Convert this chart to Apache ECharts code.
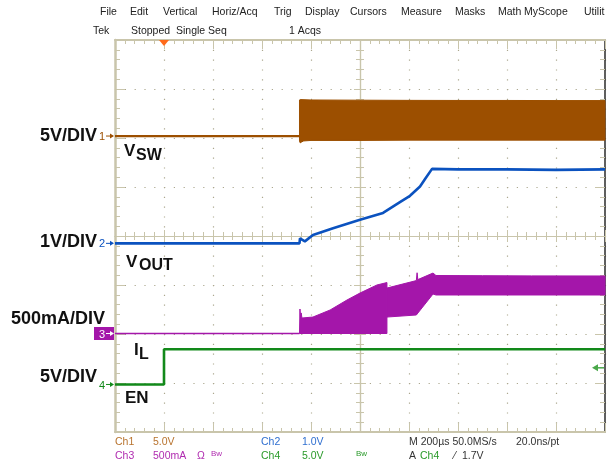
<!DOCTYPE html>
<html><head><meta charset="utf-8">
<script src="https://cdn.jsdelivr.net/npm/echarts@6/dist/echarts.min.js"></script>
<style>html,body{margin:0;padding:0;background:#fff}#c{width:608px;height:470px}</style>
</head><body><div id="c"></div>
<script>
// ---------------- data (time in µs relative to trigger) ----------------
const timeMin = -200, timeMax = 1800, timeStep = 200;   // 200 µs/div, 10 divs
const divMin = -4, divMax = 4;                          // 8 vertical divs

// channel offsets (divisions) and scales (units per div)
const ch1Offset = 2.04,  ch1Scale = 5;     // VSW  5 V/div
const ch2Offset = -0.15, ch2Scale = 1;     // VOUT 1 V/div
const ch3Offset = -1.99, ch3Scale = 500;   // IL   500 mA/div
const ch4Offset = -3.03, ch4Scale = 5;     // EN   5 V/div
const trigLevel = 1.7;                     // V on Ch4

// VSW (V)
const vswLineT = [-200, 553];
const vswLineV = [0, 0];
const vswTopT  = [553, 556, 600, 800, 1000, 1200, 1400, 1600, 1800];
const vswTopV  = [3.68, 3.72, 3.68, 3.66, 3.64, 3.63, 3.63, 3.62, 3.62];
const vswBotT  = [553, 556, 562, 570, 600, 800, 1000, 1200, 1400, 1600, 1800];
const vswBotV  = [-0.5, -0.7, -0.6, -0.5, -0.45, -0.45, -0.42, -0.42, -0.42, -0.42, -0.42];

// VOUT (V)
const voutT = [-200, 553, 555, 562, 575, 608, 690, 800, 894, 963, 1004, 1045, 1069, 1094, 1200, 1400, 1600, 1800];
const voutV = [0, 0, 0.1, 0.1, 0.04, 0.17, 0.31, 0.48, 0.62, 0.84, 0.97, 1.16, 1.34, 1.52, 1.51, 1.51, 1.5, 1.51];

// IL (mA)
const ilLineT = [-200, 553];
const ilLineI = [0, 0];
const ilSeg1TopT = [553, 555, 557, 560, 563, 608, 678, 747, 800, 869, 910];
const ilSeg1TopI = [0, 250, 160, 210, 158, 168, 240, 342, 413, 495, 520];
const ilSeg1BotT = [553, 910];
const ilSeg1BotI = [0, 0];
const ilSeg2TopT = [910, 1030, 1033, 1036, 1098, 1110, 1300, 1500, 1800];
const ilSeg2TopI = [464, 540, 620, 550, 617, 592, 590, 588, 587];
const ilSeg2BotT = [910, 1030, 1098, 1110, 1800];
const ilSeg2BotI = [168, 189, 403, 393, 393];

// EN (V)
const enT = [-200, 0, 0, 1800];
const enV = [0, 0, 3.6, 3.6];

// ---------------- chart ----------------
const FONT = '"Liberation Sans", Arial, sans-serif';
const C1 = '#9c4f00', C2 = '#0b52bf', C3 = '#a416aa', C4 = '#12891a';
const beige = '#c9c5ab', dotCol = '#aba78e';

function pts(ts, vs, off, sc) { return ts.map((t, i) => [t, off + vs[i] / sc]); }
function band(tT, tV, bT, bV, off, sc) { return pts(tT, tV, off, sc).concat(pts(bT, bV, off, sc).reverse()); }
function lineSeries(data, color, width) {
  return { type: 'line', data, xAxisIndex: 0, yAxisIndex: 0, showSymbol: false, symbol: 'none',
    lineStyle: { color, width }, itemStyle: { color }, silent: true, animation: false, z: 4 };
}
function bandSeries(poly, color) {
  return { type: 'custom', data: poly, xAxisIndex: 0, yAxisIndex: 0, silent: true, animation: false, z: 3,
    renderItem(params, api) {
      if (params.dataIndex !== 0) return null;
      return { type: 'polygon', shape: { points: poly.map(p => api.coord(p)) },
        style: { fill: color, stroke: color, lineWidth: 1 } };
    } };
}
function xAx(extra) {
  return Object.assign({ type: 'value', min: timeMin, max: timeMax, interval: timeStep,
    axisLabel: { show: false }, splitLine: { show: false } }, extra);
}
function yAx(extra) {
  return Object.assign({ type: 'value', min: divMin, max: divMax, interval: 1,
    axisLabel: { show: false }, splitLine: { show: false } }, extra);
}
const edgeLine = (color, w) => ({ show: true, onZero: false, lineStyle: { color, width: w } });
const tick = (inside, len) => ({ show: true, inside, length: len, lineStyle: { color: beige, width: 1 } });
const minor = (len) => ({ show: true, splitNumber: 5, length: len, lineStyle: { color: beige, width: 1 } });
const dotted = { show: true, lineStyle: { color: dotCol, width: 1.2, type: [1.2, 8.6] } };

const option = {
  animation: false,
  backgroundColor: '#fff',
  grid: { left: 115, top: 40, width: 490, height: 392, containLabel: false },
  xAxis: [
    xAx({ position: 'bottom', axisLine: edgeLine(beige, 2), axisTick: tick(true, 9), minorTick: minor(4), splitLine: dotted }),
    xAx({ position: 'top', axisLine: edgeLine(beige, 2), axisTick: tick(true, 9), minorTick: minor(4) }),
    xAx({ position: 'bottom', axisLine: { show: true, onZero: true, onZeroAxisIndex: 0, lineStyle: { color: beige, width: 1.2 } }, axisTick: tick(true, 6), minorTick: minor(4) }),
    xAx({ position: 'bottom', axisLine: { show: true, onZero: true, onZeroAxisIndex: 0, lineStyle: { color: beige, width: 1.2 } }, axisTick: tick(false, 6), minorTick: minor(4) }),
    { type: 'value', min: -1000, max: 1000, show: false }
  ],
  yAxis: [
    yAx({ position: 'left', axisLine: edgeLine(beige, 2.5), axisTick: tick(true, 10), minorTick: minor(5), splitLine: dotted }),
    yAx({ position: 'right', axisLine: edgeLine('#2a2a2a', 1.5), axisTick: tick(true, 10), minorTick: minor(5) }),
    yAx({ position: 'left', axisLine: { show: true, onZero: true, onZeroAxisIndex: 4, lineStyle: { color: beige, width: 1.2 } }, axisTick: tick(true, 6), minorTick: minor(4) }),
    yAx({ position: 'left', axisLine: { show: true, onZero: true, onZeroAxisIndex: 4, lineStyle: { color: beige, width: 1.2 } }, axisTick: tick(false, 6), minorTick: minor(4) })
  ],
  series: [
    lineSeries(pts(vswLineT, vswLineV, ch1Offset, ch1Scale), C1, 2.2),
    bandSeries(band(vswTopT, vswTopV, vswBotT, vswBotV, ch1Offset, ch1Scale), C1),
    lineSeries(pts(voutT, voutV, ch2Offset, ch2Scale), C2, 2.6),
    lineSeries(pts(ilLineT, ilLineI, ch3Offset, ch3Scale), C3, 1.6),
    bandSeries(band(ilSeg1TopT, ilSeg1TopI, ilSeg1BotT, ilSeg1BotI, ch3Offset, ch3Scale), C3),
    bandSeries(band(ilSeg2TopT, ilSeg2TopI, ilSeg2BotT, ilSeg2BotI, ch3Offset, ch3Scale), C3),
    lineSeries(pts(enT, enV, ch4Offset, ch4Scale), C4, 2.6)
  ]
};

const chart = echarts.init(document.getElementById('c'), null, { renderer: 'canvas' });
chart.setOption(option);

const px = t => chart.convertToPixel({ xAxisIndex: 0 }, t);
const py = d => chart.convertToPixel({ yAxisIndex: 0 }, d);
const xL = px(timeMin), xR = px(timeMax), yT = py(divMax);

function txt(text, x, y, font, fill, align) {
  return { type: 'text', x, y, z: 100, silent: true,
    style: { text, font, fill, align: align || 'left', verticalAlign: 'middle',
      textAlign: align || 'left', textVerticalAlign: 'middle' } };
}
const ui = '10.5px ' + FONT;
const g = [];
// menu bar
[['File', 100], ['Edit', 130], ['Vertical', 163], ['Horiz/Acq', 212], ['Trig', 274], ['Display', 305],
 ['Cursors', 350], ['Measure', 401], ['Masks', 455], ['Math', 498], ['MyScope', 524], ['Utilit', 584]]
  .forEach(([s, x]) => g.push(txt(s, x, 12, ui, '#222')));
g.push(txt('Tek', 93, 31, ui, '#222'));
g.push(txt('Stopped  Single Seq', 131, 31, ui, '#222'));
g.push(txt('1 Acqs', 289, 31, ui, '#222'));
// footer
const f1 = '#b8732e', f2 = '#2f6fd0', f3 = '#b02cb0', f4 = '#2a9a2a', fk = '#333';
g.push(txt('Ch1', 115, 442, ui, f1), txt('5.0V', 153, 442, ui, f1),
       txt('Ch2', 261, 442, ui, f2), txt('1.0V', 302, 442, ui, f2),
       txt('M 200µs 50.0MS/s', 409, 442, ui, fk), txt('20.0ns/pt', 516, 442, ui, fk));
g.push(txt('Ch3', 115, 456, ui, f3), txt('500mA', 153, 456, ui, f3), txt('Ω', 197, 456, ui, f3),
       txt('Bw', 211, 454, '8px ' + FONT, f3),
       txt('Ch4', 261, 456, ui, f4), txt('5.0V', 302, 456, ui, f4), txt('Bw', 356, 454, '8px ' + FONT, f4),
       txt('A', 409, 456, ui, fk), txt('Ch4', 420, 456, ui, f4), txt('⁄', 454, 456, ui, fk), txt('1.7V', 462, 456, ui, fk));
// left scale labels
const big = 'bold 18px ' + FONT;
g.push(txt('5V/DIV', 97, 136, big, '#111', 'right'), txt('1V/DIV', 97, 242, big, '#111', 'right'),
       txt('500mA/DIV', 105, 319, big, '#111', 'right'), txt('5V/DIV', 97, 377, big, '#111', 'right'));
// trace names
const nm = 'bold 17px ' + FONT, sub = 'bold 16px ' + FONT;
g.push(txt('V', 124, 151, nm, '#111'), txt('SW', 136, 156, sub, '#111'));
g.push(txt('V', 126, 262, nm, '#111'), txt('OUT', 139, 266, sub, '#111'));
g.push(txt('I', 134, 350, nm, '#111'), txt('L', 139, 355, sub, '#111'));
g.push(txt('EN', 125, 398, nm, '#111'));
// channel ground markers
function arrow(y, col) {
  return [{ type: 'line', z: 100, shape: { x1: xL - 9, y1: y, x2: xL - 2, y2: y }, style: { stroke: col, lineWidth: 1 } },
          { type: 'polygon', z: 100, shape: { points: [[xL - 1, y], [xL - 5, y - 2.5], [xL - 5, y + 2.5]] }, style: { fill: col } }];
}
[[ch1Offset, '1', C1], [ch2Offset, '2', C2], [ch4Offset, '4', C4]].forEach(([o, s, c]) => {
  const y = py(o);
  g.push(txt(s, xL - 10, y + 1, '11px ' + FONT, c, 'right'));
  arrow(y, c).forEach(e => g.push(e));
});
{
  const y = py(ch3Offset);
  g.push({ type: 'rect', z: 99, shape: { x: xL - 21, y: y - 6.5, width: 20, height: 13 }, style: { fill: C3 } });
  g.push(txt('3', xL - 10, y + 1, '11px ' + FONT, '#fff', 'right'));
  arrow(y, '#fff').forEach(e => g.push(e));
}
// trigger position marker
{
  const x = px(0);
  g.push({ type: 'polygon', z: 100, shape: { points: [[x - 5, yT], [x + 5, yT], [x, yT + 6]] }, style: { fill: '#ff6a1a' } });
}
// trigger level marker (right edge)
{
  const y = py(ch4Offset + trigLevel / ch4Scale);
  g.push({ type: 'line', z: 100, shape: { x1: xR - 8, y1: y, x2: xR - 1, y2: y }, style: { stroke: '#4aa84a', lineWidth: 1.5 } });
  g.push({ type: 'polygon', z: 100, shape: { points: [[xR - 13, y], [xR - 7, y - 3.5], [xR - 7, y + 3.5]] }, style: { fill: '#4aa84a' } });
}
chart.setOption({ graphic: g });
</script></body></html>
